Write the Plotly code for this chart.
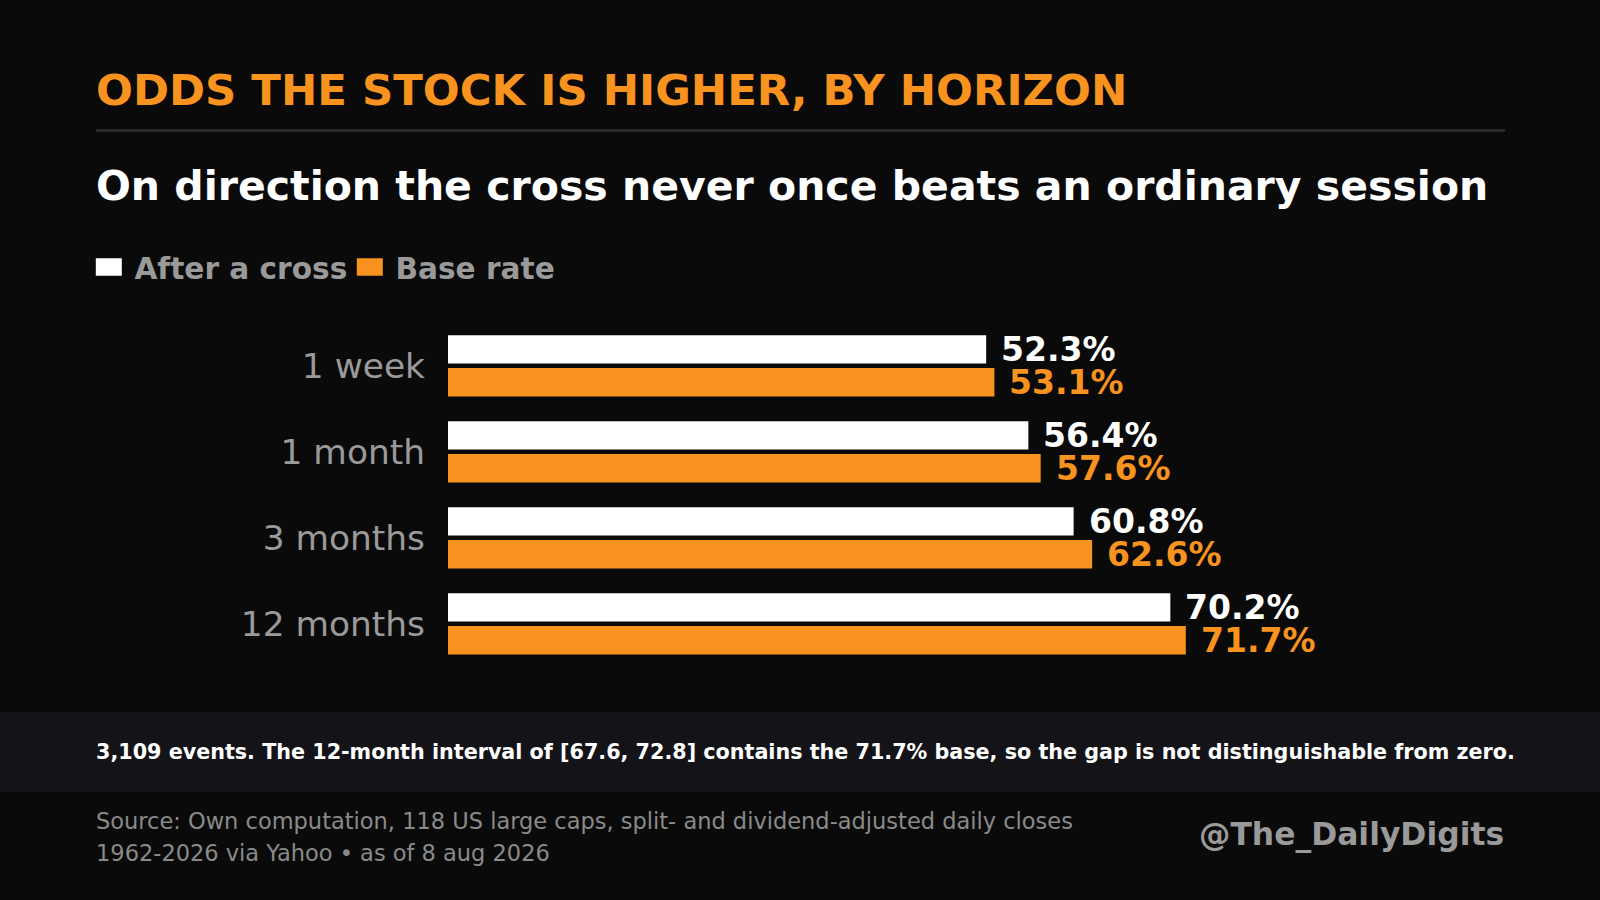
import plotly.graph_objects as go

# data
horizons = ["1 week", "1 month", "3 months", "12 months"]
after_cross = [52.3, 56.4, 60.8, 70.2]
base_rate = [53.1, 57.6, 62.6, 71.7]

BG = "#0a0a0a"
ORANGE = "#f7931e"
WHITE = "#ffffff"
GRAY = "#9a9a9a"
FONT = "DejaVu Sans"
LEFT = 0.0588

fig = go.Figure()
fig.add_trace(go.Bar(y=horizons, x=after_cross, orientation="h", name="After a cross",
                     marker=dict(color=WHITE, line=dict(width=0)), hoverinfo="skip"))
fig.add_trace(go.Bar(y=horizons, x=base_rate, orientation="h", name="Base rate",
                     marker=dict(color=ORANGE, line=dict(width=0)), hoverinfo="skip"))

# value labels next to each bar
for h, v in zip(horizons, after_cross):
    fig.add_annotation(x=v, y=h, text=f"{v:.1f}%", showarrow=False, xanchor="left",
                       xshift=13, yshift=16.5, font=dict(family=FONT, size=33, color=WHITE, weight="bold"))
for h, v in zip(horizons, base_rate):
    fig.add_annotation(x=v, y=h, text=f"{v:.1f}%", showarrow=False, xanchor="left",
                       xshift=13, yshift=-16.5, font=dict(family=FONT, size=33, color=ORANGE, weight="bold"))

# titles
fig.add_annotation(xref="paper", yref="paper", x=LEFT, y=0.9, xanchor="left", yanchor="middle",
                   text="ODDS THE STOCK IS HIGHER, BY HORIZON", showarrow=False,
                   font=dict(family=FONT, size=43.4, color=ORANGE, weight="bold"))
fig.add_annotation(xref="paper", yref="paper", x=LEFT, y=0.7933, xanchor="left", yanchor="middle",
                   text="On direction the cross never once beats an ordinary session", showarrow=False,
                   font=dict(family=FONT, size=41, color=WHITE, weight="bold"))

# footnote band + rule
fig.add_shape(type="rect", xref="paper", yref="paper", x0=0, x1=1, y0=0.1201, y1=0.2086,
              fillcolor="#141418", line=dict(width=0), layer="below")
fig.add_shape(type="line", xref="paper", yref="paper", x0=0.06, x1=0.9406, y0=0.8549, y1=0.8549,
              line=dict(color="#2a2a2e", width=3))
fig.add_annotation(xref="paper", yref="paper", x=LEFT, y=1 - 752 / 900, xanchor="left", yanchor="middle",
                   text="3,109 events. The 12-month interval of [67.6, 72.8] contains the 71.7% base, "
                        "so the gap is not distinguishable from zero.",
                   showarrow=False, font=dict(family=FONT, size=20.7, color=WHITE, weight="bold"))
fig.add_annotation(xref="paper", yref="paper", x=LEFT, y=1 - 821 / 900, xanchor="left", yanchor="middle",
                   text="Source: Own computation, 118 US large caps, split- and dividend-adjusted daily closes",
                   showarrow=False, font=dict(family=FONT, size=22.5, color="#8a8a8a"))
fig.add_annotation(xref="paper", yref="paper", x=LEFT, y=1 - 853 / 900, xanchor="left", yanchor="middle",
                   text="1962-2026 via Yahoo \u2022 as of 8 aug 2026",
                   showarrow=False, font=dict(family=FONT, size=22.5, color="#8a8a8a"))
fig.add_annotation(xref="paper", yref="paper", x=1506 / 1600, y=1 - 834 / 900, xanchor="right", yanchor="middle",
                   text="@The_DailyDigits", showarrow=False,
                   font=dict(family=FONT, size=31.4, color=GRAY, weight="bold"))

fig.update_layout(
    width=1600, height=900,
    paper_bgcolor=BG, plot_bgcolor=BG,
    margin=dict(l=0, r=0, t=0, b=0),
    barmode="group", bargap=0.235, bargroupgap=0.137,
    font=dict(family=FONT, color=GRAY),
    showlegend=True,
    legend=dict(orientation="h", x=0.059, y=0.703, xanchor="left", yanchor="middle",
                font=dict(family=FONT, size=29.6, color=GRAY, weight="bold"),
                entrywidth=216, entrywidthmode="pixels",
                bgcolor="rgba(0,0,0,0)", traceorder="normal"),
    xaxis=dict(domain=[448 / 1600, 1477 / 1600], range=[0, 100], visible=False, fixedrange=True),
    yaxis=dict(domain=[1 - 666.8 / 900, 1 - 322.8 / 900], autorange="reversed", fixedrange=True,
               showgrid=False, showline=False, zeroline=False, ticks="",
               ticklabelstandoff=22, tickfont=dict(family=FONT, size=34.4, color=GRAY)),
)

# page without body margin; wider legend swatches like the original
post = """
document.body.style.margin = '0';
document.body.style.overflow = 'hidden';
var gd = document.getElementById('{plot_id}');
function swatches() {
  gd.querySelectorAll('.legendpoints path').forEach(function (p) {
    p.setAttribute('d', 'M7.4,8.7H-18.6V-8.7H7.4Z');
  });
}
swatches();
gd.on('plotly_afterplot', swatches);
"""
fig.write_html("out.html", config={"displayModeBar": False}, post_script=post)
